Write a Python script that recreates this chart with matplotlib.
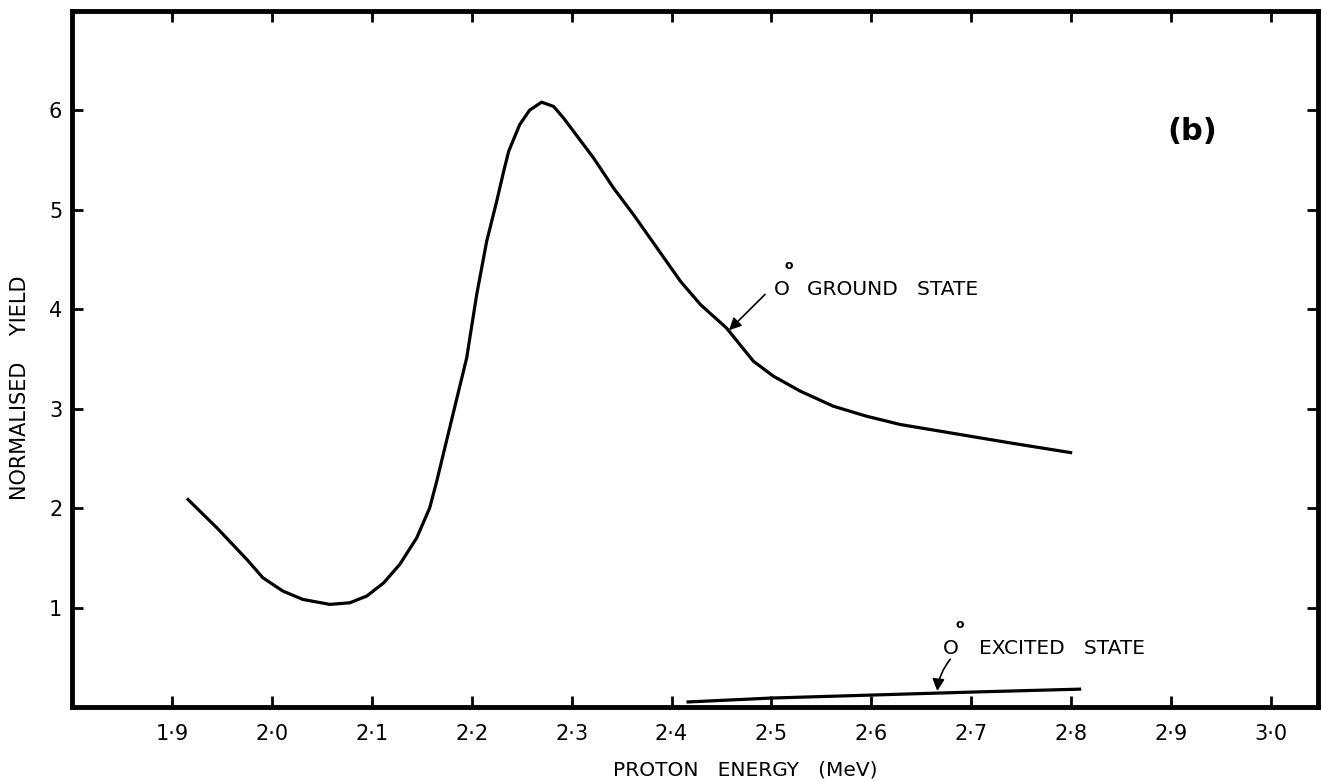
import matplotlib
matplotlib.use("Agg")
import matplotlib.pyplot as plt

plt.rcParams['font.family'] = ['DejaVu Sans']

# Data
ground_energy = [1.915, 1.945, 1.975, 1.991, 2.011, 2.031, 2.058, 2.078, 2.095, 2.112,
                 2.128, 2.145, 2.158, 2.165, 2.195, 2.205, 2.215, 2.225, 2.232, 2.237,
                 2.248, 2.258, 2.270, 2.282, 2.292, 2.302, 2.322, 2.342, 2.362, 2.382,
                 2.409, 2.429, 2.455, 2.482, 2.502, 2.529, 2.562, 2.595, 2.629, 2.679,
                 2.739, 2.801]
ground_yield = [2.098, 1.802, 1.484, 1.300, 1.166, 1.082, 1.032, 1.048, 1.116, 1.249,
                1.434, 1.701, 2.003, 2.270, 3.511, 4.147, 4.683, 5.085, 5.387, 5.588,
                5.856, 6.003, 6.083, 6.040, 5.923, 5.789, 5.521, 5.219, 4.951, 4.666,
                4.281, 4.047, 3.812, 3.477, 3.327, 3.176, 3.025, 2.925, 2.841, 2.757,
                2.656, 2.556]

excited_energy = [2.415, 2.50, 2.60, 2.70, 2.81]
excited_yield = [0.05, 0.09, 0.12, 0.15, 0.18]

xticks = [1.9, 2.0, 2.1, 2.2, 2.3, 2.4, 2.5, 2.6, 2.7, 2.8, 2.9, 3.0]
xtick_labels = ["1·9", "2·0", "2·1", "2·2", "2·3", "2·4", "2·5", "2·6", "2·7", "2·8", "2·9", "3·0"]
yticks = [1, 2, 3, 4, 5, 6]
ytick_labels = ["1", "2", "3", "4", "5", "6"]

fig = plt.figure(figsize=(13.21, 7.81), dpi=100)
ax = fig.add_axes([72 / 1321, 74 / 781, 1246 / 1321, 696 / 781])

ax.plot(ground_energy, ground_yield, color='black', lw=2.3,
        solid_capstyle='butt', solid_joinstyle='round')
ax.plot(excited_energy, excited_yield, color='black', lw=2.3, solid_capstyle='butt')

ax.set_xlim(1.8, 3.047)
ax.set_ylim(0, 7.0)

ax.set_xticks(xticks)
ax.set_xticklabels(xtick_labels, fontsize=15)
ax.set_yticks(yticks)
ax.set_yticklabels(ytick_labels, fontsize=15)
ax.tick_params(axis='both', direction='in', length=8, width=2,
               top=True, right=True, labeltop=False, labelright=False)
ax.tick_params(axis='x', pad=12)
ax.tick_params(axis='y', pad=7)

for s in ax.spines.values():
    s.set_linewidth(3.5)

ax.text(0.54, -0.09, "PROTON   ENERGY   (MeV)", transform=ax.transAxes,
        ha='center', va='center', fontsize=14.5)
ax.text(-0.0417, 0.458, "NORMALISED    YIELD", transform=ax.transAxes,
        ha='center', va='center', fontsize=15, rotation=90)

ax.text(2.921, 5.79, "(b)", ha='center', va='center', fontsize=22, fontweight='bold')

# Ground state annotation
ax.annotate("", xy=(2.4576, 3.79), xytext=(2.4936, 4.15),
            arrowprops=dict(arrowstyle='-|>', color='black', lw=1.2,
                            mutation_scale=18, shrinkA=0, shrinkB=0))
ax.text(2.502, 4.20, "O", ha='left', va='center', fontsize=14.5)
ax.text(2.517, 4.44, "o", ha='center', va='center', fontsize=9, fontweight='bold')
ax.text(2.536, 4.20, "GROUND   STATE", ha='left', va='center', fontsize=14.5)

# Excited state annotation
ax.annotate("", xy=(2.666, 0.16), xytext=(2.679, 0.48),
            arrowprops=dict(arrowstyle='-|>', color='black', lw=1.2,
                            mutation_scale=18, shrinkA=0, shrinkB=0,
                            connectionstyle='arc3,rad=0.15'))
ax.text(2.672, 0.59, "O", ha='left', va='center', fontsize=14.5)
ax.text(2.688, 0.83, "o", ha='center', va='center', fontsize=9, fontweight='bold')
ax.text(2.708, 0.59, "EXCITED   STATE", ha='left', va='center', fontsize=14.5)

fig.savefig("out.png", dpi=100)
